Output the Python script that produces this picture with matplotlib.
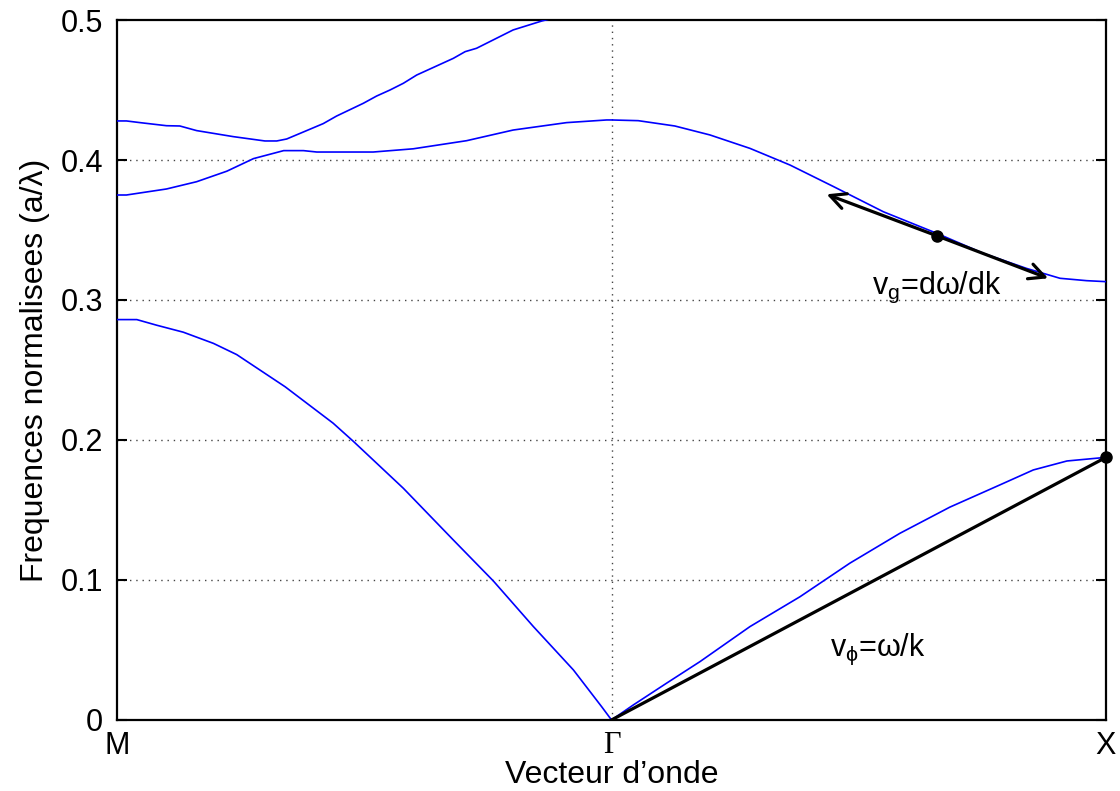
import matplotlib
matplotlib.use('Agg')
import matplotlib.pyplot as plt

plt.rcParams['font.family'] = ['Liberation Sans', 'DejaVu Sans']
plt.rcParams['mathtext.fontset'] = 'custom'
plt.rcParams['mathtext.rm'] = 'Liberation Sans'
plt.rcParams['mathtext.it'] = 'Liberation Sans'

# wave vector along M -> Gamma -> X (M=0, Gamma=1, X=2), normalised frequency a/lambda
k_band1 = [0.0, 0.04, 0.08, 0.134, 0.195, 0.242, 0.34, 0.437, 0.478, 0.579, 0.68, 0.761,
           0.842, 0.923, 0.98, 1.0, 1.044, 1.111, 1.179, 1.28, 1.381, 1.482, 1.583,
           1.684, 1.786, 1.853, 1.921, 2.0]
f_band1 = [0.286, 0.286, 0.282, 0.277, 0.269, 0.261, 0.238, 0.212, 0.199, 0.1655, 0.1286,
           0.0993, 0.0667, 0.0357, 0.0095, 0.0, 0.0107, 0.0262, 0.0417, 0.0667, 0.088,
           0.112, 0.1333, 0.152, 0.168, 0.1786, 0.185, 0.1876]

k_band2 = [0.0, 0.019, 0.1, 0.161, 0.222, 0.276, 0.337, 0.377, 0.404, 0.518, 0.599, 0.707,
           0.801, 0.909, 0.99, 1.0, 1.054, 1.128, 1.199, 1.28, 1.361, 1.449, 1.55, 1.658,
           1.752, 1.839, 1.907, 1.961, 2.0]
f_band2 = [0.375, 0.375, 0.3793, 0.3845, 0.392, 0.401, 0.4067, 0.4067, 0.4057, 0.4057,
           0.408, 0.4138, 0.4214, 0.4267, 0.4286, 0.4286, 0.4281, 0.4243, 0.4179, 0.4083,
           0.3964, 0.381, 0.363, 0.3476, 0.3333, 0.3226, 0.3155, 0.3138, 0.3131]

k_band3 = [0.0, 0.019, 0.0465, 0.1, 0.127, 0.161, 0.235, 0.299, 0.323, 0.343, 0.37, 0.417,
           0.444, 0.498, 0.525, 0.552, 0.579, 0.606, 0.68, 0.704, 0.727, 0.801, 0.859, 0.9]
f_band3 = [0.4279, 0.4279, 0.4267, 0.4245, 0.4243, 0.421, 0.4167, 0.4136, 0.4136, 0.415,
           0.419, 0.426, 0.4314, 0.4405, 0.4457, 0.45, 0.4548, 0.4607, 0.4726, 0.4774,
           0.4798, 0.4929, 0.4993, 0.503]

# phase velocity: point at X on lowest band, group velocity: tangent on 2nd band
phase_k = [1.0, 2.0]
phase_f = [0.0, 0.1876]
group_pt = (1.659, 0.3457)
group_left = (1.435, 0.3755)
group_right = (1.883, 0.3155)

tick_pos = [0, 1, 2]
tick_lab = ['M', 'Γ', 'X']

fig = plt.figure(figsize=(11.2, 7.91), dpi=100)
ax = fig.add_axes([0.1045, 0.0898, 0.883, 0.8849])

for kk, ff in [(k_band1, f_band1), (k_band2, f_band2), (k_band3, f_band3)]:
    ax.plot(kk, ff, color='#0000ff', lw=1.2, zorder=3)

ax.plot(phase_k, phase_f, color='black', lw=2.3, zorder=4)
ax.plot([phase_k[1]], [phase_f[1]], 'o', color='black', ms=8, zorder=5, clip_on=False)

for tip in (group_left, group_right):
    ax.annotate('', xy=tip, xytext=group_pt,
                arrowprops=dict(arrowstyle='->', color='black', lw=2.3,
                                mutation_scale=28, shrinkA=0, shrinkB=0), zorder=4)
ax.plot([group_pt[0]], [group_pt[1]], 'o', color='black', ms=8, zorder=5)

ax.text(1.442, 0.046, r'v$_{\mathrm{\phi}}$=$\mathrm{\omega}$/k', fontsize=22)
ax.text(1.527, 0.304, r'v$_{\mathrm{g}}$=d$\mathrm{\omega}$/dk', fontsize=22)

ax.set_xlim(0, 2)
ax.set_ylim(0, 0.5)
ax.set_yticks([0, 0.1, 0.2, 0.3, 0.4, 0.5])
ax.set_yticklabels(['0', '0.1', '0.2', '0.3', '0.4', '0.5'])
ax.set_xticks(tick_pos)
ax.set_xticklabels(tick_lab)
ax.get_xticklabels()[1].set_fontfamily('Liberation Serif')

ax.tick_params(axis='y', which='both', direction='in', length=7, width=1.5,
               right=True, labelsize=22, pad=10)
ax.tick_params(axis='x', length=0, labelsize=22, pad=8)

for y in [0.1, 0.2, 0.3, 0.4]:
    ax.axhline(y, color='#444444', lw=1, ls=(0, (1, 3.5)), zorder=1)
ax.axvline(1, color='#444444', lw=1, ls=(0, (1, 3.5)), zorder=1)

for sp in ax.spines.values():
    sp.set_linewidth(1.6)

ax.set_xlabel('Vecteur d’onde', fontsize=23, labelpad=-1)
ax.set_ylabel('Frequences normalisees (a/λ)', fontsize=23, labelpad=8)

fig.savefig('out.png', dpi=100)
